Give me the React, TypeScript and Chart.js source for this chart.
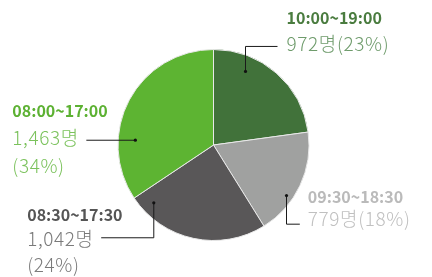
import React, { useEffect, useRef } from "react";
import { Chart, registerables } from "chart.js";

Chart.register(...registerables);

const shiftLabels = ["10:00~19:00", "09:30~18:30", "08:30~17:30", "08:00~17:00"];
const headcounts = [972, 779, 1042, 1463];
const sliceColors = ["#41723a", "#a0a1a0", "#595758", "#5db432"];
const titleColors = ["#4a7c3f", "#bababa", "#555555", "#5cb132"];
const valueColors = ["#6e9b6b", "#c0c0c0", "#7a7a7a", "#7bc25c"];

// label placement styles: dot position inside slice (fraction along arc, radius fraction),
// elbow route (px segments), text offsets relative to route end, and whether value wraps
const labelStyles = [
  { t: 0.286, rf: 0.84, route: [[0, -25], [32, 0]], tx: 9, ty: [-22, 5], wrap: false },
  { t: 0.645, rf: 0.93, route: [[0, 28.6], [13.3, 0]], tx: 8, ty: [-21, 2], wrap: false },
  { t: 0.883, rf: 0.87, route: [[0, 35], [-52.6, 0]], tx: -74, ty: [-17, 8, 34], wrap: true },
  { t: 0.301, rf: 0.82, route: [[-49, 0]], tx: -74, ty: [-23, 5, 33], wrap: true },
];

const FONT = '"Noto Sans CJK KR", "Noto Sans", sans-serif';

const labelPlugin = {
  id: "leaderLabels",
  afterDraw(chart: any) {
    const ctx = chart.ctx;
    const meta = chart.getDatasetMeta(0);
    const total = headcounts.reduce((a, b) => a + b, 0);
    meta.data.forEach((arc: any, i: number) => {
      const { x, y, startAngle, endAngle, outerRadius } = arc.getProps(
        ["x", "y", "startAngle", "endAngle", "outerRadius"],
        true
      );
      const s = labelStyles[i];
      const a = startAngle + (endAngle - startAngle) * s.t;
      const r = outerRadius * s.rf;
      const px = x + Math.cos(a) * r;
      const py = y + Math.sin(a) * r;
      ctx.save();
      ctx.strokeStyle = "#1a1a1a";
      ctx.lineWidth = 1;
      ctx.beginPath();
      ctx.moveTo(px, py);
      let ex = px;
      let ey = py;
      s.route.forEach(([dx, dy]) => {
        ex += dx;
        ey += dy;
        ctx.lineTo(ex, ey);
      });
      ctx.stroke();
      ctx.fillStyle = "#111";
      ctx.beginPath();
      ctx.arc(px, py, 1.6, 0, Math.PI * 2);
      ctx.fill();

      const pct = Math.round((headcounts[i] / total) * 100) + "%";
      const count = headcounts[i].toLocaleString("en-US") + "명";
      const tx = ex + s.tx;
      ctx.textAlign = "left";
      ctx.textBaseline = "alphabetic";
      ctx.fillStyle = titleColors[i];
      ctx.font = `700 16px ${FONT}`;
      (ctx as any).letterSpacing = "0px";
      ctx.fillText(shiftLabels[i], tx, ey + s.ty[0]);
      ctx.fillStyle = valueColors[i];
      ctx.font = `300 19px ${FONT}`;
      (ctx as any).letterSpacing = "0.6px";
      if (s.wrap) {
        ctx.fillText(count, tx, ey + s.ty[1]);
        ctx.fillText(`(${pct})`, tx, ey + s.ty[2]);
      } else {
        ctx.fillText(`${count}(${pct})`, tx, ey + s.ty[1]);
      }
      (ctx as any).letterSpacing = "0px";
      ctx.restore();
    });
  },
};

export default function App() {
  const ref = useRef<HTMLCanvasElement>(null);
  useEffect(() => {
    if (!ref.current) return;
    const chart = new Chart(ref.current, {
      type: "pie",
      data: {
        labels: shiftLabels,
        datasets: [
          {
            data: headcounts,
            backgroundColor: sliceColors,
            borderColor: "#e8e8e8",
            borderWidth: 1,
          },
        ],
      },
      options: {
        animation: false,
        responsive: false,
        layout: { padding: { left: 117.5, right: 122.5, top: 49, bottom: 36 } },
        plugins: { legend: { display: false }, tooltip: { enabled: false } },
      },
      plugins: [labelPlugin],
    });
    return () => chart.destroy();
  }, []);
  return (
    <div style={{ position: "fixed", left: 0, top: 0, width: 432, height: 277, background: "#fff" }}>
      <canvas ref={ref} width={432} height={277} style={{ width: 432, height: 277 }} />
    </div>
  );
}
